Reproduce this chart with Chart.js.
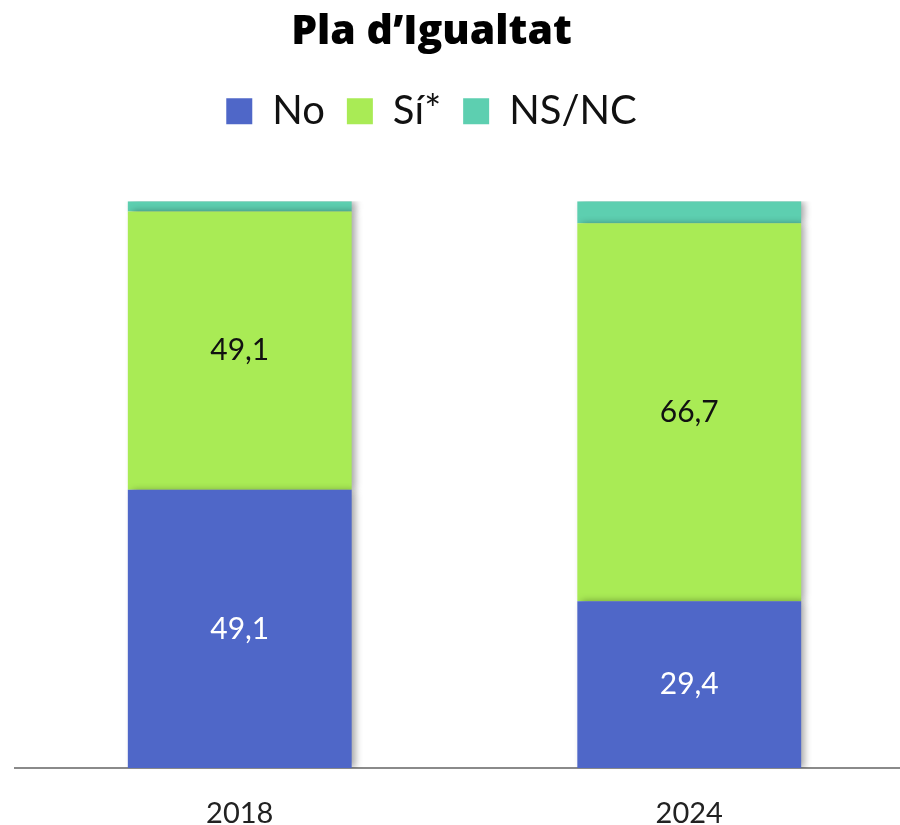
<!DOCTYPE html>
<html>
<head>
<meta charset="utf-8">
<script src="https://cdn.jsdelivr.net/npm/chart.js@4/dist/chart.umd.min.js"></script>
<style>
  html, body { margin: 0; padding: 0; background: #fff; overflow: hidden; }
  #wrap { position: absolute; left: -51px; top: 0; width: 965px; height: 825px; }
</style>
</head>
<body>
<div id="wrap"><canvas id="chart"></canvas></div>
<script>
// values (%)
const years = ['2018', '2024']
const noValues = [49.1, 29.4]
const siValues = [49.1, 66.7]
const nsncValues = [1.8, 3.9]

const seriesNames = ['No', 'Sí*', 'NS/NC']
const seriesColors = ['#4f67c8', '#a9eb55', '#5dcfb0']
const labelColors = ['#ffffff', '#111111', null] // NS/NC has no label

// soft shadow to the right of the bars
const barShadow = {
  id: 'barShadow',
  beforeDatasetsDraw(chart) {
    const ctx = chart.ctx
    ctx.save()
    ctx.shadowColor = 'rgba(0,0,0,0.35)'
    ctx.shadowBlur = 7
    ctx.shadowOffsetX = 4
    ctx.shadowOffsetY = 0
  },
  afterDatasetsDraw(chart) {
    chart.ctx.restore()
  }
}

// value labels in the middle of each segment
const segmentLabels = {
  id: 'segmentLabels',
  afterDatasetsDraw(chart) {
    const ctx = chart.ctx
    ctx.save()
    ctx.font = '400 30px Lato'
    ctx.textAlign = 'center'
    ctx.textBaseline = 'middle'
    chart.data.datasets.forEach((ds, i) => {
      if (!labelColors[i]) return
      const meta = chart.getDatasetMeta(i)
      meta.data.forEach((bar, j) => {
        ctx.fillStyle = labelColors[i]
        ctx.fillText(ds.data[j].toFixed(1).replace('.', ','), bar.x, (bar.y + bar.base) / 2)
      })
    })
    ctx.restore()
  }
}

new Chart(document.getElementById('chart'), {
  type: 'bar',
  data: {
    labels: years,
    datasets: [
      { label: seriesNames[0], data: noValues, backgroundColor: seriesColors[0] },
      { label: seriesNames[1], data: siValues, backgroundColor: seriesColors[1] },
      { label: seriesNames[2], data: nsncValues, backgroundColor: seriesColors[2] }
    ]
  },
  options: {
    responsive: true,
    maintainAspectRatio: false,
    animation: false,
    categoryPercentage: 1,
    barPercentage: 0.498,
    layout: { padding: 0 },
    plugins: {
      title: {
        display: true,
        text: 'Pla d\u2019Igualtat',
        color: '#000',
        font: { family: 'Open Sans', size: 41, weight: '800', lineHeight: 1.2 },
        padding: { top: 8, bottom: 12 }
      },
      subtitle: { // spacer between legend and bars
        display: true,
        text: '',
        weight: 500,
        font: { size: 10, lineHeight: 1 },
        padding: { top: 0, bottom: 50 }
      },
      legend: {
        position: 'top',
        labels: {
          color: '#111',
          boxWidth: 26,
          boxHeight: 26,
          padding: 22,
          font: { family: 'Lato', size: 40, weight: '400', lineHeight: 1.2 }
        }
      },
      tooltip: { enabled: false }
    },
    scales: {
      x: {
        stacked: true,
        grid: { display: false },
        border: { display: true, color: '#8a8a8a', width: 2 },
        ticks: {
          color: '#222',
          padding: 23,
          font: { family: 'Lato', size: 29, lineHeight: 1 }
        },
        afterFit(scale) { scale.height = 57 }
      },
      y: {
        stacked: true,
        min: 0,
        max: 100,
        grid: { display: false },
        border: { display: false },
        ticks: { display: false },
        afterFit(scale) { scale.width = 66 }
      }
    }
  },
  plugins: [barShadow, segmentLabels]
})
</script>
</body>
</html>
